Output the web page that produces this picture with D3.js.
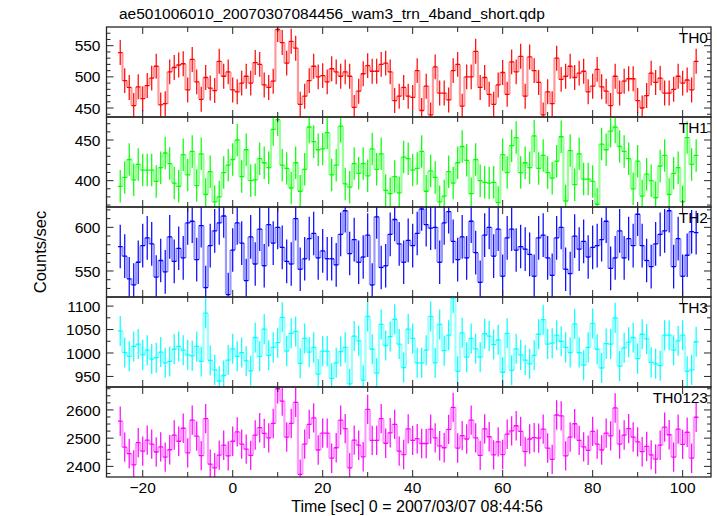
<!DOCTYPE html>
<html><head><meta charset="utf-8">
<script src="https://cdn.jsdelivr.net/npm/d3@7/dist/d3.min.js"></script>
<style>body{margin:0;background:#fff}svg{display:block}text{font-family:"Liberation Sans",Arial,sans-serif;fill:#000}</style>
</head><body><svg id="c" width="717" height="516"></svg>
<script>
const title = "ae501006010_20070307084456_wam3_trn_4band_short.qdp";
const xLabel = "Time [sec] 0 = 2007/03/07 08:44:56";
const yLabel = "Counts/sec";
const panelNames = ["TH0", "TH1", "TH2", "TH3", "TH0123"];
const panelColors = ["#ff0000", "#00ff00", "#0000ff", "#00ffff", "#ff00ff"];
const binTimes = d3.range(-25, 104); // bin centres, 1 s bins

const th0 = [539,494,483,454,484,465,486,498,517,455,457,508,515,519,521,479,528,492,464,499,482,478,525,501,508,
  479,476,490,501,490,523,520,487,483,493,576,555,522,557,546,456,469,494,517,500,502,492,513,508,501,508,501,451,477,505,
  518,509,509,520,522,508,462,469,483,469,467,510,446,485,439,516,474,474,463,510,520,453,500,500,541,483,499,472,456,487,
  507,472,524,508,533,469,532,510,491,439,476,457,530,496,501,517,499,506,509,476,485,512,484,477,454,501,474,493,497,497,
  462,450,470,506,491,498,474,474,480,501,490,495,479,525];
const th1 = [393,404,426,401,420,413,413,413,399,416,434,421,397,393,432,407,436,394,433,383,411,374,380,410,419,
  426,450,405,438,400,401,427,422,416,463,475,419,415,391,422,387,414,466,448,438,439,459,407,419,467,396,392,421,409,421,
  406,439,414,433,388,384,405,385,429,427,413,415,436,387,412,404,374,381,411,397,422,442,425,384,426,400,398,397,398,373,
  432,410,443,453,410,422,416,455,415,431,410,403,424,454,375,437,395,433,402,402,399,371,445,438,461,466,442,436,427,390,
  424,381,408,400,379,418,431,383,409,416,374,453,420,431];
const th2 = [578,567,541,534,560,579,588,581,543,562,549,589,561,576,565,605,607,563,602,531,579,596,605,613,523,
  574,605,582,539,589,558,598,556,603,582,600,577,561,558,610,552,564,587,593,565,573,564,564,557,592,619,570,586,560,566,
  591,534,612,554,556,592,609,581,560,585,579,593,621,603,599,600,560,605,618,584,563,589,565,607,571,537,591,600,567,598,
  544,588,598,574,578,575,569,544,588,591,565,545,588,600,552,547,590,575,584,566,577,579,586,607,553,565,596,565,587,579,
  615,579,562,555,581,592,596,619,555,587,544,568,595,594];
const th3 = [1047,1001,993,1014,1019,996,1006,987,990,1002,979,982,1008,1014,1006,996,994,1014,982,1085,984,964,940,952,985,
  1009,993,1001,983,962,1033,993,1051,995,1012,1022,1076,1004,1042,1046,978,1031,1002,1012,955,1004,1004,946,979,1003,1012,934,1036,1026,942,
  1078,1008,957,1061,1016,1035,1072,1019,969,1051,1031,979,979,1006,1078,979,1061,1005,1038,1117,961,1043,991,1031,1009,991,1041,1036,1018,1028,
  959,1042,963,1009,996,985,977,995,1040,1071,1019,1021,1038,1025,1012,1001,1062,1001,974,1012,1063,1008,968,1020,1019,1075,972,1011,1023,1033,
  988,1040,1030,980,977,973,1038,1038,1006,1026,1038,961,964,1024];
const th0123 = [2560,2468,2445,2405,2484,2454,2493,2479,2451,2469,2433,2459,2511,2489,2535,2448,2564,2507,2438,2569,2408,2395,2440,2475,2437,
  2489,2522,2479,2461,2439,2511,2537,2517,2501,2552,2675,2631,2504,2552,2627,2372,2479,2549,2572,2458,2518,2518,2429,2466,2564,2534,2395,2493,2475,2434,
  2602,2492,2492,2569,2482,2519,2549,2454,2442,2533,2492,2498,2481,2481,2532,2501,2473,2466,2531,2609,2465,2509,2497,2564,2501,2439,2533,2505,2441,2487,
  2442,2514,2526,2544,2524,2452,2497,2502,2500,2532,2465,2425,2582,2579,2437,2504,2551,2492,2469,2457,2524,2479,2458,2518,2508,2607,2479,2511,2534,2504,
  2487,2452,2471,2441,2426,2475,2539,2512,2433,2532,2478,2521,2429,2574];
const seriesErrors = [20, 20, 25, 32, 52];

const xDomain = [-28.05, 106.3];
const xMajorTicks = [-20, 0, 20, 40, 60, 80, 100];
const xMinorTicks = [-20, -10, 0, 10, 20, 30, 40, 50, 60, 70, 80, 90, 100];
const yDomains = [[435.6, 580], [367.6, 478.3], [520.2, 623.3], [927.5, 1119.4], [2362.4, 2681.2]];
const yMajorTicks = [[450, 500, 550], [400, 450], [550, 600], [950, 1000, 1050, 1100], [2400, 2500, 2600]];
const yMinorStep = [10, 10, 10, 25, 25];

const series = [th0, th1, th2, th3, th0123];

// layout
const L = 106.5, R = 711, T = 27, PH = 90;
const svg = d3.select("#c");
const x = d3.scaleLinear().domain(xDomain).range([L, R]);
const frameCol = "#262626";

series.forEach((vals, i) => {
  const top = T + i * PH, bot = top + PH;
  const y = d3.scaleLinear().domain(yDomains[i]).range([bot, top]);
  const col = panelColors[i];
  const err = seriesErrors[i];
  const cid = "clip" + i;
  svg.append("clipPath").attr("id", cid).append("rect")
    .attr("x", L).attr("y", top).attr("width", R - L).attr("height", PH);
  const g = svg.append("g").attr("clip-path", `url(#${cid})`);
  const data = binTimes.map((t, k) => ({t, v: vals[k]}));

  // vertical risers of histogram (light)
  g.selectAll("line.rise").data(data.slice(1)).enter().append("line")
    .attr("x1", (d) => x(d.t - 0.5)).attr("x2", (d) => x(d.t - 0.5))
    .attr("y1", (d, k) => y(data[k].v)).attr("y2", (d) => y(d.v))
    .attr("stroke", col).attr("stroke-opacity", 0.4).attr("stroke-width", 2.2);
  // horizontal steps
  g.selectAll("line.step").data(data).enter().append("line")
    .attr("x1", (d) => x(d.t - 0.5)).attr("x2", (d) => x(d.t + 0.5))
    .attr("y1", (d) => y(d.v)).attr("y2", (d) => y(d.v))
    .attr("stroke", col).attr("stroke-width", 1.3);
  // error bars
  g.selectAll("line.err").data(data).enter().append("line")
    .attr("x1", (d) => x(d.t)).attr("x2", (d) => x(d.t))
    .attr("y1", (d) => y(d.v - err)).attr("y2", (d) => y(d.v + err))
    .attr("stroke", col).attr("stroke-width", 1.2);

  // frame
  svg.append("rect").attr("x", L).attr("y", top).attr("width", R - L).attr("height", PH)
    .attr("fill", "none").attr("stroke", frameCol).attr("stroke-width", 1.3);

  // y ticks (both sides, inward)
  const [y0, y1] = yDomains[i];
  const minors = d3.range(Math.ceil(y0 / yMinorStep[i]) * yMinorStep[i], y1, yMinorStep[i]);
  const tk = svg.append("g").attr("stroke", frameCol).attr("stroke-width", 1);
  minors.forEach((v) => {
    const major = yMajorTicks[i].includes(v);
    const len = major ? 7 : 4;
    tk.append("line").attr("x1", L).attr("x2", L + len).attr("y1", y(v)).attr("y2", y(v));
    tk.append("line").attr("x1", R - len).attr("x2", R).attr("y1", y(v)).attr("y2", y(v));
  });
  yMajorTicks[i].forEach((v) => {
    if (!minors.includes(v)) {
      tk.append("line").attr("x1", L).attr("x2", L + 7).attr("y1", y(v)).attr("y2", y(v));
      tk.append("line").attr("x1", R - 7).attr("x2", R).attr("y1", y(v)).attr("y2", y(v));
    }
  });
  // y tick labels
  svg.append("g").selectAll("text").data(yMajorTicks[i]).enter().append("text")
    .attr("x", L - 6).attr("y", (v) => y(v)).attr("dy", "0.36em")
    .attr("text-anchor", "end").attr("font-size", 15.5).text((v) => d3.format("d")(v));

  // x ticks top and bottom of panel
  xMinorTicks.forEach((v) => {
    const len = xMajorTicks.includes(v) ? 7 : 5;
    tk.append("line").attr("x1", x(v)).attr("x2", x(v)).attr("y1", top).attr("y2", top + len);
    tk.append("line").attr("x1", x(v)).attr("x2", x(v)).attr("y1", bot - len).attr("y2", bot);
  });

  // panel name
  svg.append("text").attr("x", R - 3).attr("y", top + 16).attr("text-anchor", "end")
    .attr("font-size", 15.5).text(panelNames[i]);
});

// x tick labels
const bottom = T + 5 * PH;
svg.append("g").selectAll("text").data(xMajorTicks).enter().append("text")
  .attr("x", (v) => x(v)).attr("y", bottom + 16).attr("text-anchor", "middle")
  .attr("font-size", 15.5).text((v) => d3.format("d")(v));

svg.append("text").attr("x", 417).attr("y", 512).attr("text-anchor", "middle")
  .attr("font-size", 16).text(xLabel);
svg.append("text").attr("transform", `translate(46,${T + 2.5 * PH}) rotate(-90)`)
  .attr("text-anchor", "middle").attr("font-size", 16.5).text(yLabel);
svg.append("text").attr("x", 119).attr("y", 19).attr("font-size", 15.5).text(title);
</script></body></html>
